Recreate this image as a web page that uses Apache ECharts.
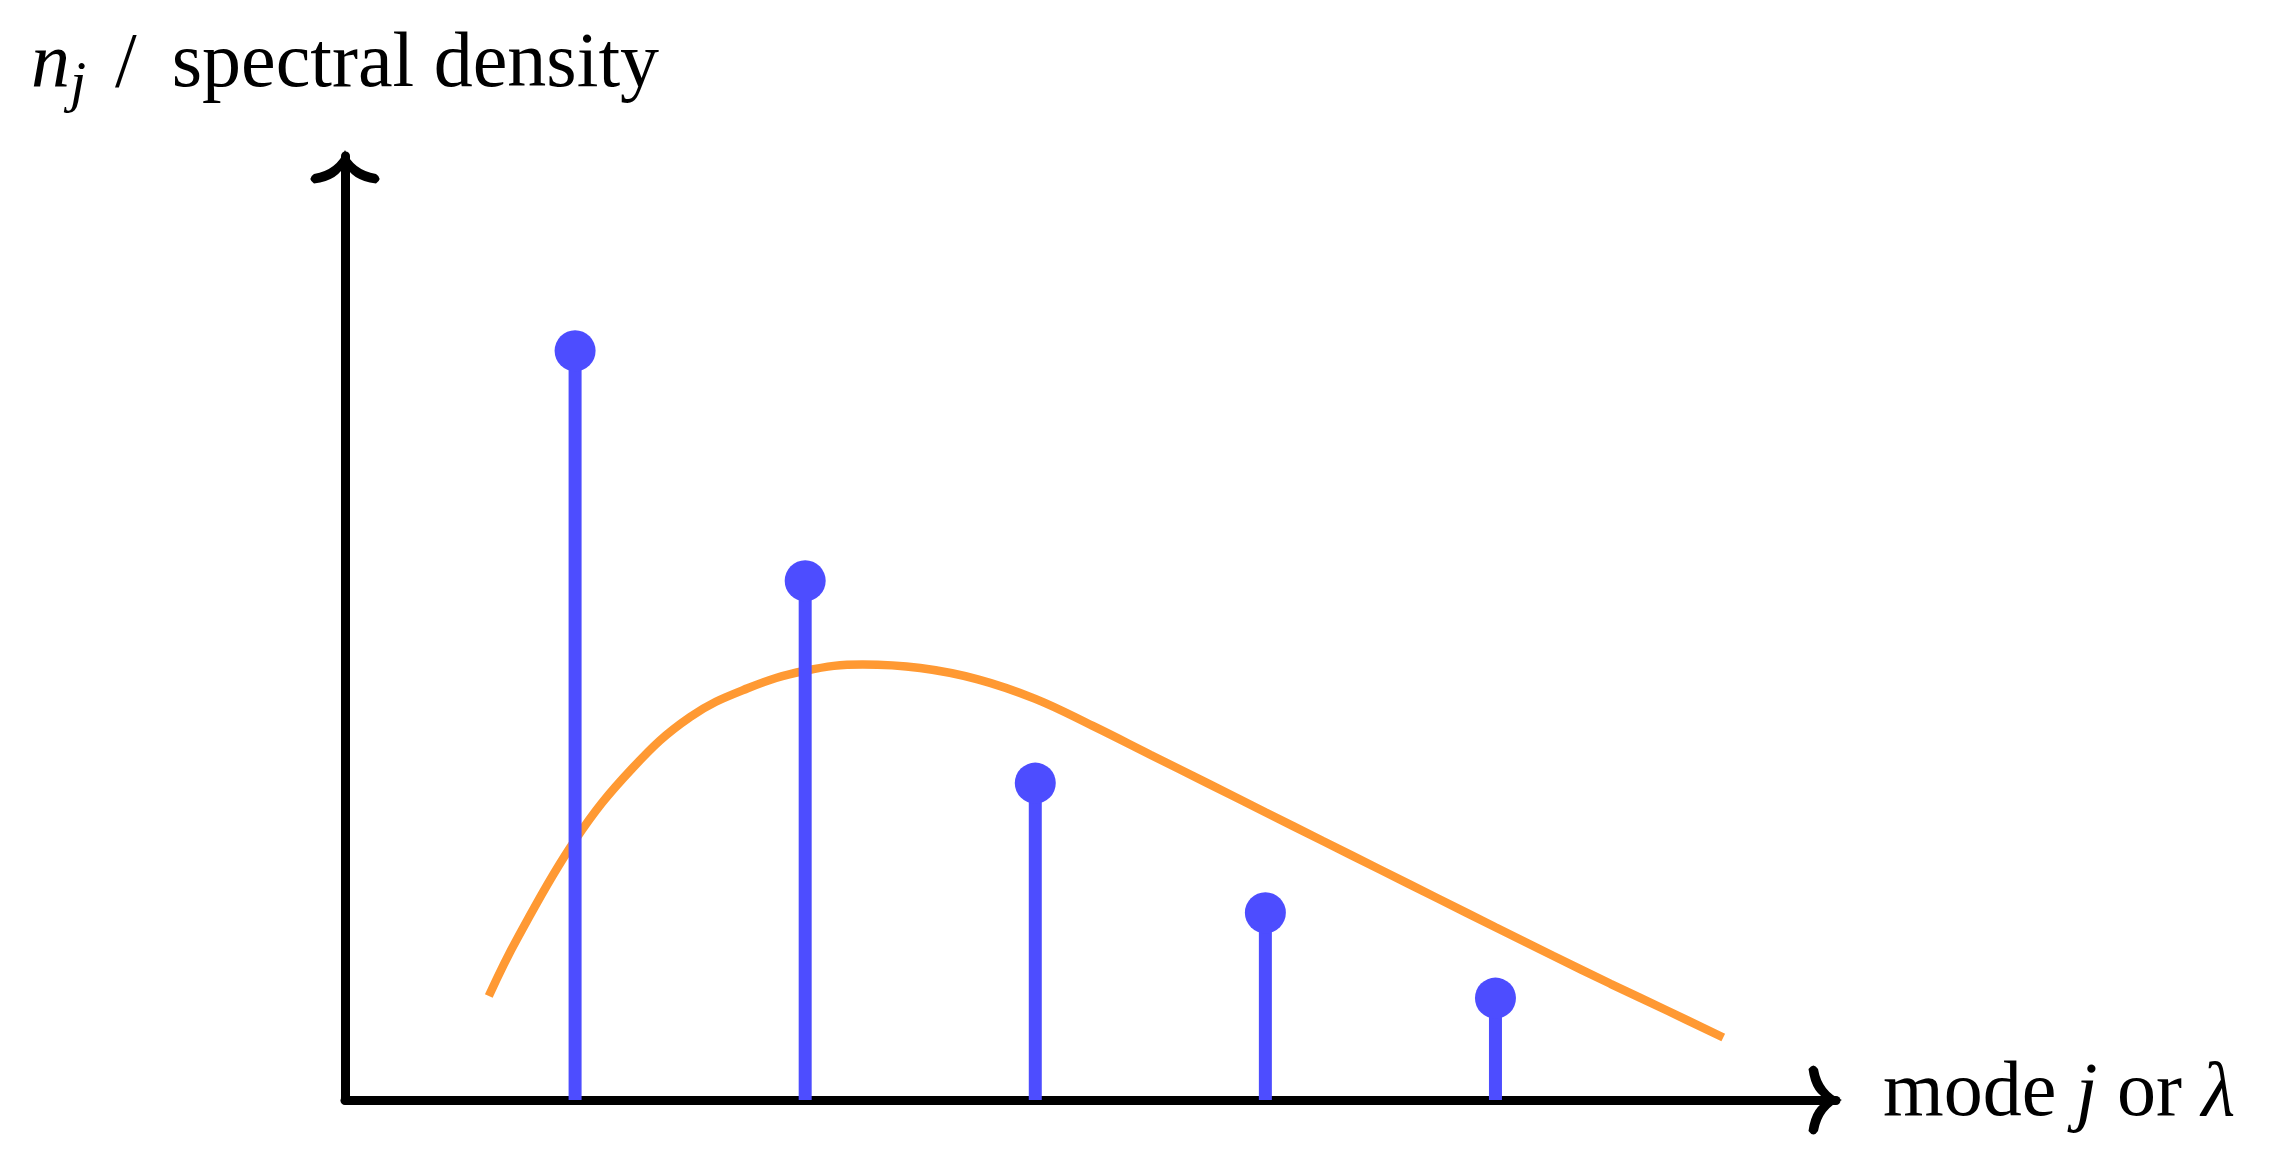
<!DOCTYPE html>
<html>
<head>
<meta charset="utf-8"/>
<title>spectral density</title>
<script src="https://cdn.jsdelivr.net/npm/echarts@6/dist/echarts.min.js"></script>
</head>
<body style="margin:0;background:#fff">
<div id="main" style="width:2280px;height:1162px"></div>
<script type="text/javascript">
// modes j and their occupation n_j (stems)
var modes = [1, 2, 3, 4, 5];
var occupation = [1.0, 0.693, 0.423, 0.25, 0.136];
// continuous spectral density
var densityX = [0.625, 0.75, 1.0, 1.25, 1.5, 1.75, 2.0, 2.25, 2.5, 2.75, 3.0, 3.25, 3.5, 3.75, 4.0, 4.25, 4.5, 4.75, 5.0, 5.25, 5.5, 5.75, 5.99];
var densityY = [0.1388, 0.2162, 0.347, 0.4431, 0.5112, 0.5495, 0.5729, 0.5813, 0.5766, 0.5615, 0.5354, 0.4993, 0.4609, 0.4226, 0.3841, 0.3457, 0.3074, 0.269, 0.2306, 0.1926, 0.1551, 0.1188, 0.0834];

var BLUE = '#4D4DFF';
var ORANGE = '#FF9933';
var FONT = 'Liberation Serif';
// latex-like open arrow head, tip pointing up
var ARROW = 'path://M0,0 Q-8,20 -31,24 Q-38,28.5 -31,33.5 Q-5,30 0,13 Q5,30 31,33.5 Q38,28.5 31,24 Q8,20 0,0 Z';

var stems = modes.map(function (m, i) { return [m, occupation[i]]; });
var curve = densityX.map(function (x, i) { return [x, densityY[i]]; });

var myChart = echarts.init(document.getElementById('main'));

var axisLine = {
    show: true,
    symbol: ['none', ARROW],
    symbolSize: [69, 33.5],
    symbolOffset: [0, -10.75],
    lineStyle: { color: '#000', width: 9 }
};

var option = {
    animation: false,
    backgroundColor: '#fff',
    grid: { left: 345, top: 156, right: 444, bottom: 62, containLabel: false, outerBoundsMode: 'none' },
    xAxis: {
        type: 'value',
        min: 0,
        max: 6.48,
        axisLine: axisLine,
        axisTick: { show: false },
        axisLabel: { show: false },
        splitLine: { show: false },
        name: '{a|mode }{b|j}{a| or }{b|λ}',
        nameLocation: 'end',
        nameGap: 47,
        nameTextStyle: {
            padding: [0, 0, 10, 0],
            rich: {
                a: { fontFamily: FONT, fontSize: 78, lineHeight: 78, color: '#000' },
                b: { fontFamily: FONT, fontSize: 78, lineHeight: 78, fontStyle: 'italic', color: '#000' }
            }
        }
    },
    yAxis: {
        type: 'value',
        min: 0,
        max: 1.26,
        axisLine: axisLine,
        axisTick: { show: false },
        axisLabel: { show: false },
        splitLine: { show: false },
        name: '{it|n}{sub|j}{sl|/}{tx|spectral density}',
        nameLocation: 'end',
        nameGap: 41,
        nameTextStyle: {
            rich: {
                it: { fontFamily: FONT, fontSize: 78, lineHeight: 98, fontStyle: 'italic', color: '#000' },
                sub: { fontFamily: FONT, fontSize: 58, lineHeight: 98, fontStyle: 'italic', verticalAlign: 'bottom', color: '#000' },
                sl: { fontFamily: FONT, fontSize: 78, lineHeight: 98, color: '#000', padding: [0, 35, 0, 29] },
                tx: { fontFamily: FONT, fontSize: 78, lineHeight: 98, color: '#000' }
            }
        }
    },
    series: [
        {
            name: 'density',
            type: 'line',
            data: curve,
            smooth: 0.4,
            showSymbol: false,
            symbol: 'none',
            z: 1,
            lineStyle: { color: ORANGE, width: 8.5 }
        },
        {
            name: 'stems',
            type: 'bar',
            data: stems,
            barWidth: 13,
            z: 2,
            itemStyle: { color: BLUE }
        },
        {
            name: 'nj',
            type: 'scatter',
            data: stems,
            symbol: 'circle',
            symbolSize: 41,
            z: 3,
            itemStyle: { color: BLUE, opacity: 1 }
        }
    ]
};

myChart.setOption(option);
</script>
</body>
</html>
